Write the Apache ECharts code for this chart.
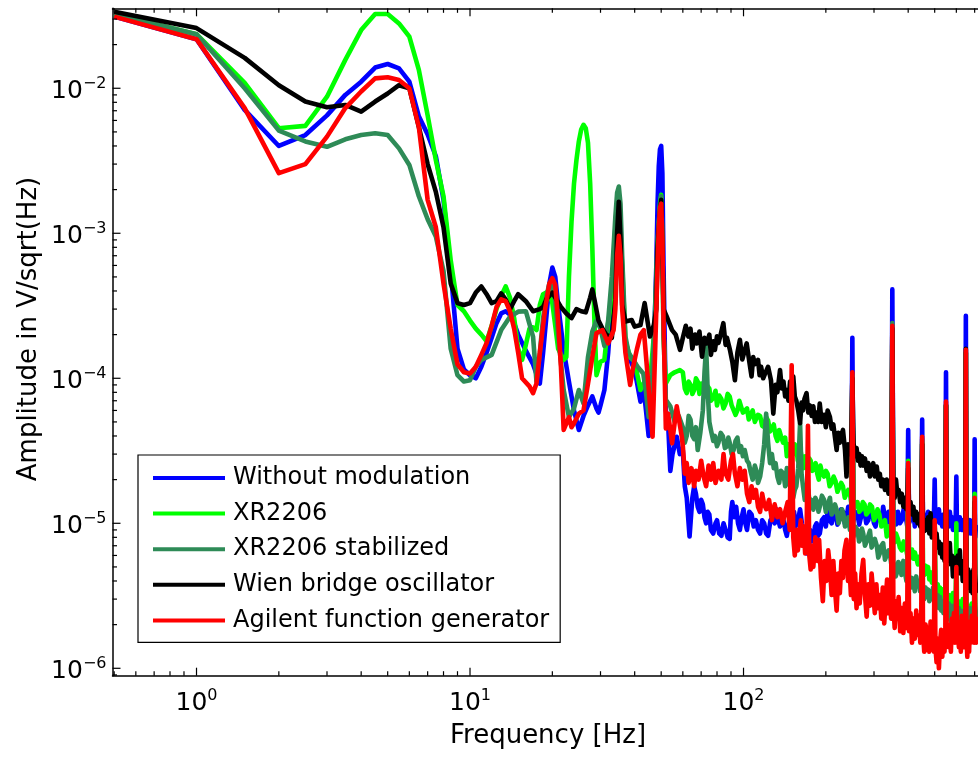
<!DOCTYPE html>
<html><head><meta charset="utf-8">
<script src="https://cdn.jsdelivr.net/npm/echarts@6/dist/echarts.min.js"></script>
<style>html,body{margin:0;padding:0;background:#fff}#c{width:978px;height:760px}</style>
</head><body><div id="c"></div>
<script>
const FONT = 'DejaVu Sans';
const seriesNames = ['Without modulation', 'XR2206', 'XR2206 stabilized', 'Wien bridge oscillator', 'Agilent function generator'];
const seriesColors = ['#0000ff', '#00ff00', '#2e8b57', '#000000', '#ff0000'];

// [frequency Hz, amplitude V/sqrt(Hz)]
const withoutModulation = [[0.5,3.12e-2],[1,2.18e-2],[1.5,7.1e-3],[2,4.0e-3],[2.5,4.76e-3],[3,6.5e-3],[3.5,9.0e-3],[4,1.11e-2],[4.5,1.39e-2],[5,1.47e-2],[5.5,1.37e-2],[6,1.11e-2],[6.5,6.4e-3],[7,4.8e-3],[7.5,3.4e-3],[8,1.7e-3],[8.5,5.5e-4],[9,1.6e-4],[9.5,1.15e-4],[10,1.05e-4],[10.5,1.0e-4],[11,1.2e-4],[11.5,1.5e-4],[12,1.9e-4],[12.5,2.4e-4],[13,2.8e-4],[13.5,2.9e-4],[14,2.75e-4],[14.5,2.4e-4],[15,2.0e-4],[16,1.55e-4],[17,1.25e-4],[18,9.2e-5],[18.5,1.5e-4],[19,2.6e-4],[19.5,4.5e-4],[20,5.8e-4],[20.5,5.0e-4],[21,3.2e-4],[22,1.57e-4],[23,9.5e-5],[24,6e-5],[25,4.4e-5],[26,5.5e-5],[27,6.5e-5],[28,7.5e-5],[29,6.2e-5],[29.5,5.8e-5],[30,6.5e-5],[31,8.3e-5],[32,1.5e-4],[33,3.5e-4],[34,1.1e-3],[34.5,1.6e-3],[35,1.8e-3],[35.5,1.2e-3],[36,4e-4],[37,1.6e-4],[38.5,1.34e-4],[40,1.14e-4],[42,6.9e-5],[43,9e-5],[44,6e-5],[45,4e-5],[46,5e-5],[47,1.5e-4],[48,6e-4],[48.5,1.6e-3],[49,2.9e-3],[49.5,3.8e-3],[50,4.0e-3],[50.5,2.6e-3],[51,6e-4],[52,6e-5],[53,4.9e-5],[54,2.3e-5],[55,3.0e-5],[57,3.95e-5],[58.5,3.0e-5],
[60,3.2e-5],[61,1.8e-5],[62,1.5e-5],[63.5,8.1e-6],[65,1.5e-5],[66,1.8e-5],[67,1.6e-5],[68,1.3e-5],[69,1.2e-5],[70,1.45e-5],[71,1.35e-5],[72,1.1e-5],[73,1.0e-5],[74,1.2e-5],[75,1.15e-5],[76,9e-6],[77.5,8.5e-6],[79,1.0e-5],[80,1.05e-5],[81.5,8.5e-6],[83,8.2e-6],[84.5,1.0e-5],[86,9e-6],[87.5,8e-6],[89,7.8e-6],[90,1.2e-5],[91,1.4e-5],[92.5,1.1e-5],[94,1.3e-5],[95.5,1.0e-5],[97,9e-6],[98.5,1.1e-5],[100,1.25e-5],[101.5,1.0e-5],[103,9e-6],[105,1.2e-5],[107,1.15e-5],[109,9.5e-6],[111,1.05e-5],[113,9e-6],[115,8.5e-6],[117,1.05e-5],[119,1.0e-5],[121,8.5e-6],[123,8.2e-6],[125.5,1.05e-5],[128,1.1e-5],[130,1.0e-5],[132,1.25e-5],[134,1.05e-5],[136,9.5e-6],[138,1.15e-5],[140,1.05e-5],[142,9e-6],[144,8.2e-6],[147,1.05e-5],[150,1.0e-5],[151.5,1.15e-5],[153,1.2e-5],[155,9.5e-6],[157,9.5e-6],[159,1.1e-5],[161,1.25e-5],[163.5,1.0e-5],[166,8.5e-6],[168,7.2e-6],[170,6.2e-6],[172.5,8.5e-6],[175,9e-6],[177.5,7.5e-6],[180,8e-6],[182.5,9.5e-6],[185,1.0e-5],[187.5,8.2e-6],[190,8.5e-6],[193.5,1.05e-5],[197,1.1e-5],[200,9.5e-6],[203,1.2e-5],[206.5,1.05e-5],[210,1.0e-5],[213.5,1.2e-5],[217,1.15e-5],[220.5,9.8e-6],[224,1.05e-5],[227.5,1.25e-5],[231,1.2e-5],[234.5,1.0e-5],[238,1.1e-5],[241.5,1.3e-5],[245,1.25e-5],[247.5,1.1e-5],[250,1.9e-4],[252.5,1.05e-5],[256,1.2e-5],[261,1.15e-5],[265,9.8e-6],[269,1.0e-5],[273,1.25e-5],[277,1.2e-5],[281,1.0e-5],[286,1.05e-5],[290,1.25e-5],[295,1.2e-5],[300,1.0e-5],[304,9.5e-6],[309,1.2e-5],[314,1.15e-5],[319,1.0e-5],[324,1.3e-5],[329,1.1e-5],[334,1.0e-5],[339,1.2e-5],[343,1.15e-5],[347,1.0e-5],[350,4.1e-4],[353,1.05e-5],[357,1.2e-5],[361,9.8e-6],[367,1.2e-5],[373,1.0e-5],[379,1.05e-5],[385,1.25e-5],[391,1.15e-5],[397,9.5e-6],[400,4.4e-5],[403,1.0e-5],[408,1.2e-5],[413,1.05e-5],[418,1.2e-5],[423,9.5e-6],[429,9.5e-6],[434,1.15e-5],[439,1.05e-5],[443,1.15e-5],[446.5,1.0e-5],[450,5.2e-5],[453,1.0e-5],[458,1.15e-5],[463,9.5e-6],[468,1.1e-5],[473,1.2e-5],[478,1.0e-5],[483,1.15e-5],[488,9e-6],[493,1.1e-5],[497,1.15e-5],[500,2.0e-5],[503,1.0e-5],[508,1.2e-5],[513,1.05e-5],[518,1.25e-5],[523,1.0e-5],[528,1.1e-5],[533,9.5e-6],[538,1.15e-5],[543,1.0e-5],[547,1.1e-5],[550,1.1e-4],[553,1.0e-5],[558,1.15e-5],[563,9.5e-6],[568,1.2e-5],[573,1.05e-5],[578,1.1e-5],[583,9e-6],[588,1.05e-5],[593,9.5e-6],[597,1.1e-5],[600,2.1e-5],[603,9.5e-6],[608,1.1e-5],[613,9e-6],[618,1.1e-5],[623,1.0e-5],[628,9e-6],[633,1.05e-5],[638,9e-6],[643,1.05e-5],[647,9.5e-6],[650,2.7e-4],[653,9e-6],[658,1.05e-5],[663,8.5e-6],[668,1.0e-5],[673,1.05e-5],[678,8.5e-6],[683,9.5e-6],[688,8.5e-6],[693,1.0e-5],[697,9e-6],[700,3.8e-5],[703,8e-6],[708,9.5e-6],[712,9e-6]];

const xr2206 = [[0.5,3.25e-2],[1,2.36e-2],[1.5,1.09e-2],[2,5.3e-3],[2.5,5.5e-3],[3,8.75e-3],[3.5,1.57e-2],[4,2.52e-2],[4.5,3.25e-2],[5,3.25e-2],[5.5,2.8e-2],[6,2.27e-2],[6.5,1.34e-2],[7,6.5e-3],[7.5,3.2e-3],[8,1.8e-3],[8.5,6.5e-4],[9,3.2e-4],[9.5,2.9e-4],[10,2.5e-4],[10.5,2.2e-4],[11,2.0e-4],[11.5,1.8e-4],[12,2.3e-4],[12.5,3.0e-4],[13,3.7e-4],[13.5,4.3e-4],[14,3.6e-4],[14.5,2.6e-4],[15,1.6e-4],[15.5,1.34e-4],[16,1.7e-4],[16.5,2.2e-4],[17,2.25e-4],[17.5,2.15e-4],[18,3.2e-4],[18.5,3.8e-4],[19,3.9e-4],[19.5,4.0e-4],[20,3.3e-4],[20.5,2.3e-4],[21,1.6e-4],[22,1.34e-4],[22.5,1.4e-4],[23,5e-4],[23.5,1.2e-3],[24,2.2e-3],[24.5,3.2e-3],[25,4.3e-3],[25.5,5.2e-3],[26,5.6e-3],[26.5,5.3e-3],[27,4.2e-3],[27.5,2.2e-3],[28,8e-4],[28.5,2.5e-4],[29,1.05e-4],[30,1.3e-4],[31,1.34e-4],[32,2.4e-4],[33,3.5e-4],[34,8e-4],[35,1.4e-3],[36,6e-4],[37,1.8e-4],[38.5,1.4e-4],[40,1.3e-4],[42,8.3e-5],[44,1.0e-4],[46,1.2e-4],[47.5,2.5e-4],[48.5,8e-4],[49.5,1.6e-3],[50,1.84e-3],[50.5,9e-4],[51,2e-4],[52,9.2e-5],[54,1.05e-4],[56,1.1e-4],[58.5,1.14e-4],
[60,1.1e-4],[61,8.5e-5],[62,7.9e-5],[63,9.5e-5],[64,9e-5],[65,7.8e-5],[66,8.3e-5],[67,1.0e-4],[68,9.5e-5],[69,7.8e-5],[70,9.2e-5],[71.5,8e-5],[72.5,7.5e-5],[74,8.8e-5],[75,8.5e-5],[76,7e-5],[77.5,7.3e-5],[79,8.2e-5],[80,6.5e-5],[81.5,7.6e-5],[83,7.2e-5],[84.5,6.2e-5],[86,6.7e-5],[87.5,7.8e-5],[89,7.5e-5],[90.5,6.5e-5],[92,6.4e-5],[93.5,5.6e-5],[95,6.0e-5],[96.5,7.0e-5],[98,6.8e-5],[99.5,5.8e-5],[101,5.7e-5],[103,6.2e-5],[104.5,5.2e-5],[106,5.5e-5],[108,6.0e-5],[110,5.0e-5],[111.5,4.9e-5],[113,5.6e-5],[115,5.5e-5],[117,4.7e-5],[119,4.6e-5],[121,5.4e-5],[123,5.1e-5],[125,4.3e-5],[127,4.4e-5],[129,4.8e-5],[131,4.0e-5],[133,3.7e-5],[135,4.4e-5],[137,4.0e-5],[139.5,3.6e-5],[142,3.9e-5],[144,2.9e-5],[146,3.5e-5],[148,3.4e-5],[150,3.1e-5],[152,3.0e-5],[154,3.5e-5],[156,3.3e-5],[158,2.7e-5],[160,2.8e-5],[162,3.1e-5],[164,2.6e-5],[166,2.4e-5],[168,2.9e-5],[170,2.6e-5],[172,2.4e-5],[174,2.8e-5],[176,2.7e-5],[178.5,2.3e-5],[181,2.4e-5],[183.5,2.6e-5],[186,2.2e-5],[188.5,2.0e-5],[191,2.5e-5],[194,2.2e-5],[197,2.1e-5],[200,2.3e-5],[203,2.2e-5],[206.5,1.8e-5],[210,1.9e-5],[213.5,2.1e-5],[217,1.95e-5],[220.5,1.65e-5],[224,1.7e-5],[227.5,1.9e-5],[231,1.8e-5],[234.5,1.5e-5],[238,1.52e-5],[241.5,1.7e-5],[245,1.6e-5],[247.5,1.4e-5],[250,9e-5],[252.5,1.45e-5],[256,1.3e-5],[261,1.4e-5],[265,1.2e-5],[269,1.24e-5],[273,1.4e-5],[277,1.35e-5],[281,1.15e-5],[286,1.2e-5],[290,1.35e-5],[295,1.3e-5],[300,1.05e-5],[304,1.1e-5],[309,1.25e-5],[314,1.15e-5],[319,9.5e-6],[324,9.5e-6],[329,1.05e-5],[334,8.1e-6],[339,9.5e-6],[343,9e-6],[347,8e-6],[350,2.0e-4],[353,8.2e-6],[357,7.4e-6],[361,8.5e-6],[367,7.8e-6],[373,6.8e-6],[379,6.5e-6],[385,7.5e-6],[391,7e-6],[397,6e-6],[400,2.7e-5],[403,6.4e-6],[408,5.8e-6],[413,6.6e-6],[418,5.7e-6],[423,6.3e-6],[429,6.3e-6],[434,5.2e-6],[439,5.9e-6],[443,5.2e-6],[446.5,5.6e-6],[450,3.6e-5],[453,4.9e-6],[458,4.4e-6],[463,5.1e-6],[468,4.5e-6],[473,5.0e-6],[478,4.1e-6],[483,4.6e-6],[488,3.9e-6],[493,4.3e-6],[497,3.8e-6],[500,9e-6],[503,3.9e-6],[508,3.4e-6],[513,3.8e-6],[518,3.1e-6],[523,3.6e-6],[528,3.0e-6],[533,3.5e-6],[538,2.9e-6],[543,3.3e-6],[547,3.0e-6],[550,6.5e-5],[553,3.1e-6],[558,2.7e-6],[563,3.2e-6],[568,2.6e-6],[573,3.0e-6],[578,2.7e-6],[583,3.3e-6],[588,2.6e-6],[593,3.0e-6],[597,2.6e-6],[600,1.0e-5],[603,2.8e-6],[608,2.4e-6],[613,2.9e-6],[618,2.5e-6],[623,2.8e-6],[628,2.4e-6],[633,3.0e-6],[638,2.5e-6],[643,2.8e-6],[647,2.4e-6],[650,1.5e-4],[653,2.6e-6],[658,2.3e-6],[663,2.7e-6],[668,2.3e-6],[673,2.6e-6],[678,2.2e-6],[683,2.8e-6],[688,2.3e-6],[693,2.6e-6],[697,2.3e-6],[700,1.6e-5],[703,2.5e-6],[708,2.2e-6],[712,2.5e-6]];

const xr2206Stabilized = [[0.5,3.25e-2],[1,2.36e-2],[1.5,1.0e-2],[2,5.1e-3],[2.5,4.3e-3],[3,3.95e-3],[3.5,4.45e-3],[4,4.76e-3],[4.5,4.9e-3],[5,4.76e-3],[5.5,3.85e-3],[6,2.96e-3],[6.5,1.8e-3],[7,1.25e-3],[7.5,9.5e-4],[8,5.5e-4],[8.5,1.6e-4],[9,1.05e-4],[9.5,9.5e-5],[10,9.7e-5],[10.5,1.2e-4],[11,1.34e-4],[12,1.45e-4],[13,2.15e-4],[14,2.66e-4],[15,2.88e-4],[16,2.9e-4],[17,1.94e-4],[17.5,9.5e-5],[18,1.5e-4],[18.5,2.6e-4],[19,3.6e-4],[19.5,4.5e-4],[20,4.3e-4],[20.5,3.45e-4],[21,2.0e-4],[22,8.3e-5],[23,5.4e-5],[24,6.2e-5],[25,8.3e-5],[26,6.7e-5],[27,1.4e-4],[28,2.1e-4],[29,2.5e-4],[30,2.2e-4],[31,1.67e-4],[32,2.5e-4],[33,5e-4],[34,1.3e-3],[34.5,1.9e-3],[35,2.1e-3],[35.5,1.6e-3],[36,7e-4],[37,1.94e-4],[38,1.5e-4],[39.5,1.34e-4],[41,1.2e-4],[43,1.08e-4],[44,8e-5],[45,5.4e-5],[46,7e-5],[47.5,3e-4],[48.5,9e-4],[49.5,1.5e-3],[50,1.8e-3],[50.5,8e-4],[51,2e-4],[52,7.1e-5],[54,6.4e-5],[56,5e-5],[58,5.5e-5],
[60,4.6e-5],[61,3.6e-5],[62,4.0e-5],[63,5.5e-5],[64,5.2e-5],[65,4.0e-5],[66,3.8e-5],[67,4.6e-5],[68,3.2e-5],[69.5,4.2e-5],[71,6e-5],[72,1.1e-4],[73,1.65e-4],[74,8e-5],[75,5e-5],[76,4.4e-5],[77.5,3.7e-5],[78.6,4.0e-5],[80,3.4e-5],[81,3.6e-5],[82.5,4.2e-5],[84,4.0e-5],[85.5,3.3e-5],[87,3.4e-5],[88,3.9e-5],[89,3.6e-5],[90.5,3.0e-5],[92,3.2e-5],[93.5,3.7e-5],[95,3.9e-5],[96.5,3.1e-5],[98,3.4e-5],[99.5,2.9e-5],[101,3.2e-5],[103,2.7e-5],[104.5,2.6e-5],[106,2.3e-5],[108,2.0e-5],[110,2.5e-5],[111.5,2.3e-5],[113,1.9e-5],[115,2.1e-5],[117,2.6e-5],[119,3.5e-5],[121,5.7e-5],[123,3.6e-5],[125,2.6e-5],[127,3.0e-5],[129,2.4e-5],[131,2.6e-5],[133,2.1e-5],[135,1.9e-5],[137,2.3e-5],[140,2.2e-5],[142,1.8e-5],[144,2.4e-5],[146,1.9e-5],[148,1.8e-5],[150,2.0e-5],[152,1.5e-5],[154,1.7e-5],[156,1.8e-5],[158.5,2.4e-5],[161,4.9e-5],[163,2.2e-5],[165,1.8e-5],[167.5,1.45e-5],[170,1.5e-5],[172.5,1.7e-5],[175,1.3e-5],[177.5,1.45e-5],[180,1.24e-5],[183,1.5e-5],[186,1.4e-5],[188,1.2e-5],[190,1.3e-5],[193.5,1.55e-5],[197,1.45e-5],[200,1.2e-5],[203.5,1.35e-5],[207,1.5e-5],[210,1.15e-5],[213,1.2e-5],[216,1.35e-5],[219,1.24e-5],[222.5,1.0e-5],[226,1.1e-5],[229,1.25e-5],[232,1.15e-5],[235,9.5e-6],[238,1.0e-5],[241.5,1.1e-5],[245,9e-6],[247.5,1.0e-5],[250,1.05e-4],[252.5,8.1e-6],[256,9.5e-6],[261,9e-6],[264.5,7.5e-6],[268,7.8e-6],[271,9.2e-6],[274,8.5e-6],[278,7.0e-6],[282,7.5e-6],[286,8.2e-6],[290,8.9e-6],[294,6.8e-6],[298,7.0e-6],[302,7.8e-6],[307,7e-6],[311,5.8e-6],[315,6.2e-6],[319,7.0e-6],[324,7.3e-6],[329,5.6e-6],[334,5.5e-6],[339,6.5e-6],[343,6.2e-6],[347,5.2e-6],[350,2.4e-4],[353,5.4e-6],[356,5.0e-6],[360,4.3e-6],[363,4.5e-6],[368,5.4e-6],[373,5.2e-6],[378,4.4e-6],[384,5.5e-6],[390,4.5e-6],[394,4.0e-6],[397,4.2e-6],[400,2.5e-5],[403,4.1e-6],[408,3.6e-6],[413,4.2e-6],[418,3.8e-6],[423,3.4e-6],[428,4.3e-6],[433,3.7e-6],[438,4.0e-6],[442,3.4e-6],[446.5,3.9e-6],[450,3.8e-5],[453,3.5e-6],[458,3.0e-6],[463,3.6e-6],[468,3.1e-6],[473,3.5e-6],[478,2.9e-6],[483,3.4e-6],[488,3.0e-6],[493,3.6e-6],[497,3.0e-6],[500,8e-6],[503,3.1e-6],[508,2.7e-6],[513,3.2e-6],[518,2.6e-6],[523,3.1e-6],[528,2.5e-6],[533,2.9e-6],[538,2.4e-6],[543,2.8e-6],[547,2.4e-6],[550,6.6e-5],[553,2.5e-6],[558,2.2e-6],[563,2.8e-6],[568,2.4e-6],[573,2.1e-6],[578,2.7e-6],[583,2.2e-6],[588,2.5e-6],[593,2.1e-6],[597,2.4e-6],[600,5e-6],[603,2.4e-6],[608,2.0e-6],[613,2.6e-6],[618,2.2e-6],[623,2.5e-6],[628,2.0e-6],[633,2.4e-6],[638,2.1e-6],[643,2.5e-6],[647,2.2e-6],[650,1.5e-4],[653,2.3e-6],[658,1.9e-6],[663,2.4e-6],[668,2.0e-6],[673,2.6e-6],[678,2.1e-6],[683,2.5e-6],[688,2.0e-6],[693,2.4e-6],[697,2.6e-6],[700,1.4e-5],[703,2.8e-6],[708,2.3e-6],[712,2.5e-6]];

const wienBridge = [[0.5,3.37e-2],[1,2.6e-2],[1.5,1.62e-2],[2,1.05e-2],[2.5,8.1e-3],[3,7.4e-3],[3.5,7.67e-3],[4,6.9e-3],[4.5,8.1e-3],[5,9.2e-3],[5.5,1.05e-2],[6,1.0e-2],[6.5,5.4e-3],[7,3.0e-3],[7.5,1.93e-3],[8,1.1e-3],[8.5,4.5e-4],[9,3.3e-4],[9.5,3.2e-4],[10,3.3e-4],[10.5,3.9e-4],[11,4.3e-4],[11.5,3.8e-4],[12,3.3e-4],[12.5,3.4e-4],[13,3.85e-4],[13.5,3.5e-4],[14,3.0e-4],[14.5,3.4e-4],[15,3.8e-4],[16,3.4e-4],[17,2.9e-4],[18,3.0e-4],[18.5,3.1e-4],[19,3.5e-4],[20,3.9e-4],[20.5,3.6e-4],[21.5,3.1e-4],[22.5,2.8e-4],[23.5,2.6e-4],[24.5,3.0e-4],[25.5,2.9e-4],[26.5,2.85e-4],[27.5,3.6e-4],[28,4.1e-4],[28.5,3.5e-4],[29.5,2.5e-4],[30.5,2.2e-4],[31.5,2.0e-4],[33,1.9e-4],[34,3.5e-4],[34.5,1.0e-3],[35,1.65e-3],[35.5,9e-4],[36,3.2e-4],[37,2.46e-4],[39,2.52e-4],[40,2.27e-4],[42,2.33e-4],[43.5,3.3e-4],[45.5,1.94e-4],[47,2.33e-4],[48,3e-4],[48.5,8e-4],[49.5,1.4e-3],[50,1.7e-3],[50.5,8e-4],[51,3e-4],[52.4,2.66e-4],[54.8,2.15e-4],[56.5,2.0e-4],[58.6,1.57e-4],
[60,1.9e-4],[61.5,2.3e-4],[62.8,1.94e-4],[64,2.2e-4],[65,1.6e-4],[66.5,2.0e-4],[67.4,1.74e-4],[69,2.1e-4],[70.5,1.41e-4],[72,1.9e-4],[73.4,1.74e-4],[75,2.0e-4],[76,1.45e-4],[77.5,1.8e-4],[78.6,1.57e-4],[80,1.95e-4],[81,1.75e-4],[82.5,2.0e-4],[84.4,2.4e-4],[86,1.7e-4],[87,1.9e-4],[89.2,1.57e-4],[91,1.3e-4],[93,9.7e-5],[95,1.5e-4],[97,1.84e-4],[99,1.35e-4],[100,1.45e-4],[102.7,1.74e-4],[105,1.3e-4],[107,1.03e-4],[108.5,1.4e-4],[110,1.25e-4],[113,1.34e-4],[114.5,1.05e-4],[116,1.2e-4],[118,1.0e-4],[120,1.08e-4],[123,1.2e-4],[126,9.7e-5],[128.5,5.7e-5],[131,9e-5],[133,8e-5],[136,1.14e-4],[138,8.5e-5],[140,9.5e-5],[142,7.5e-5],[144,8.3e-5],[146,7e-5],[148,9.5e-5],[150,8e-5],[152,1.03e-4],[154,7.5e-5],[156,7e-5],[158.5,6e-5],[161,4.9e-5],[163,6.8e-5],[165,6e-5],[167,7.2e-5],[170,7.9e-5],[172.5,5.8e-5],[175,6.5e-5],[177.5,5.5e-5],[180,6.4e-5],[182.5,5e-5],[185,5.8e-5],[187.5,5e-5],[190,6.7e-5],[193,5e-5],[197,5.6e-5],[200,4.6e-5],[203,6.0e-5],[207,5.4e-5],[210,4.5e-5],[213,4.8e-5],[216,3.9e-5],[219,3.2e-5],[222,4.2e-5],[225,3.6e-5],[228,4.1e-5],[231,4.4e-5],[235,3.2e-5],[238,2.1e-5],[241,3.5e-5],[245,3.0e-5],[247.5,3.4e-5],[250,1.0e-4],[252.5,3.56e-5],[256,2.9e-5],[259,3.3e-5],[262,2.7e-5],[265,3.0e-5],[268,2.5e-5],[271,2.9e-5],[274,2.5e-5],[278,2.8e-5],[282,2.3e-5],[286,2.6e-5],[290,2.1e-5],[294,2.4e-5],[298,2.6e-5],[302,2.1e-5],[307,2.46e-5],[311,2.0e-5],[315,2.2e-5],[319,1.8e-5],[324,2.0e-5],[329,1.7e-5],[334,2.0e-5],[339,1.6e-5],[343,1.8e-5],[347,1.6e-5],[350,2.2e-4],[353,1.8e-5],[357,1.5e-5],[361,2.0e-5],[365,1.6e-5],[369,1.7e-5],[374,1.4e-5],[379,1.6e-5],[384,1.3e-5],[389,1.5e-5],[394,1.25e-5],[397,1.4e-5],[400,2.4e-5],[403,1.25e-5],[408,1.4e-5],[413,1.15e-5],[418,1.3e-5],[423,1.05e-5],[428,1.2e-5],[433,1.0e-5],[438,1.15e-5],[443,9.5e-6],[446.5,1.1e-5],[450,3.5e-5],[453,1.0e-5],[458,8.8e-6],[463,1.05e-5],[468,9e-6],[473,1.1e-5],[478,8.5e-6],[483,1.17e-5],[488,8e-6],[493,9.5e-6],[497,8e-6],[500,1.0e-5],[503,7.5e-6],[508,8.5e-6],[513,6.8e-6],[518,7.5e-6],[523,6.2e-6],[528,7.2e-6],[533,5.8e-6],[538,6.8e-6],[543,5.5e-6],[547,6.5e-6],[550,6.5e-5],[553,6.0e-6],[558,7.0e-6],[563,5.5e-6],[568,7.3e-6],[573,5.2e-6],[578,6.0e-6],[583,4.3e-6],[588,5.5e-6],[593,4.8e-6],[597,5.8e-6],[600,5.0e-6],[603,4.5e-6],[608,6.0e-6],[613,4.6e-6],[618,6.5e-6],[623,4.5e-6],[628,5.5e-6],[633,4.0e-6],[638,5.2e-6],[643,4.2e-6],[647,5.0e-6],[650,1.6e-4],[653,4.2e-6],[658,3.6e-6],[663,4.8e-6],[668,3.8e-6],[673,4.6e-6],[678,3.4e-6],[683,4.3e-6],[688,3.3e-6],[693,4.8e-6],[697,3.8e-6],[700,1.4e-5],[703,4.5e-6],[708,3.4e-6],[712,3.9e-6]];

const agilent = [[0.5,3.12e-2],[1,2.18e-2],[1.5,7.3e-3],[2,2.6e-3],[2.5,3.0e-3],[3,4.64e-3],[3.5,7.3e-3],[4,9.5e-3],[4.5,1.17e-2],[5,1.19e-2],[5.5,1.14e-2],[6,1.0e-2],[6.5,5.4e-3],[7,1.7e-3],[7.5,1.1e-3],[8,4.5e-4],[8.5,2.2e-4],[9,1.25e-4],[9.5,1.1e-4],[10,1.08e-4],[10.5,1.2e-4],[11,1.45e-4],[11.5,1.75e-4],[12,2.3e-4],[12.5,3.1e-4],[13,3.5e-4],[13.5,3.4e-4],[14,2.9e-4],[14.5,2.2e-4],[15,1.5e-4],[15.5,1.0e-4],[16.5,8.8e-5],[17,7.9e-5],[17.5,9.2e-5],[18,1.5e-4],[18.8,2.96e-4],[19.5,4.5e-4],[20,4.9e-4],[20.5,4.4e-4],[21,2.5e-4],[21.5,1.2e-4],[22,4.4e-5],[23,5.4e-5],[23.5,4.6e-5],[24,4.9e-5],[25,5.7e-5],[26,6.0e-5],[27,9.2e-5],[28,1.4e-4],[29,2.05e-4],[30.5,2.15e-4],[32,1.74e-4],[33.5,2.15e-4],[34,3e-4],[34.5,7e-4],[35,9.6e-4],[35.5,7e-4],[36,3e-4],[37,1.5e-4],[38.5,9.0e-5],[39.5,1.2e-4],[40.7,1.57e-4],[42,2.0e-4],[43.2,2.15e-4],[44.5,1.1e-4],[46.5,3.95e-5],[47.5,1.5e-4],[48.5,6e-4],[49,1.1e-3],[49.5,1.5e-3],[50,1.6e-3],[50.5,9e-4],[51,2.5e-4],[52,4.5e-5],[53,5.7e-5],[54.8,3.56e-5],[57,6.4e-5],[59.5,3.95e-5],
[60,3.4e-5],[61,2.2e-5],[62,2.6e-5],[63,1.9e-5],[64.5,2.4e-5],[66,1.8e-5],[67,2.3e-5],[68.5,2.0e-5],[70,2.7e-5],[71.5,2.1e-5],[73,1.8e-5],[74.5,2.5e-5],[76,2.0e-5],[77.5,2.6e-5],[79,1.9e-5],[81,2.3e-5],[83,2.0e-5],[84.5,3.0e-5],[86,2.2e-5],[88,2.0e-5],[90,2.7e-5],[91.5,3.0e-5],[93,2.2e-5],[95,1.8e-5],[97,2.4e-5],[99,2.0e-5],[101,2.3e-5],[103,1.6e-5],[105,1.4e-5],[107,1.8e-5],[109,1.5e-5],[111,1.7e-5],[113,1.3e-5],[115,1.2e-5],[117,1.6e-5],[119,1.35e-5],[121,1.25e-5],[124,1.45e-5],[127,1.05e-5],[130,1.35e-5],[133,1.1e-5],[136,1.25e-5],[139,1.0e-5],[142,1.2e-5],[145,1.4e-5],[147.5,9e-6],[150,1.23e-4],[152,8e-6],[154,6e-6],[156,9e-6],[158,6.5e-6],[160,8.5e-6],[162,1.05e-5],[164,7e-6],[166,9.5e-6],[168,6.2e-6],[170,8e-6],[172,4.7e-5],[174,6e-6],[176,4.8e-6],[178,7e-6],[180,5e-6],[183,8e-6],[186,5.5e-6],[189,7.7e-6],[192,4.2e-6],[195,2.9e-6],[198,5.5e-6],[201,4e-6],[204,6.5e-6],[207,5e-6],[210,3.2e-6],[213,5.5e-6],[216,3.5e-6],[219,2.5e-6],[222,4.5e-6],[225,3.3e-6],[228,5.5e-6],[231,4.2e-6],[234,6.5e-6],[238,7.7e-6],[241,4e-6],[244,5e-6],[247,3.2e-6],[250,1.1e-4],[253,3e-6],[256,4.5e-6],[259,2.6e-6],[262,3.8e-6],[266,2.8e-6],[270,4.5e-6],[274,5.6e-6],[278,3.2e-6],[282,2.27e-6],[286,3.8e-6],[290,2.7e-6],[294,4.5e-6],[298,3.3e-6],[302,2.4e-6],[306,3.8e-6],[310,2.6e-6],[315,3.2e-6],[319,2.2e-6],[323,3.6e-6],[327,2.04e-6],[331,3.0e-6],[335,4.1e-6],[339,2.4e-6],[343,3.0e-6],[346.5,2.2e-6],[350,2.3e-4],[353,2.8e-6],[357,1.9e-6],[361,2.9e-6],[365,2.2e-6],[369,3.1e-6],[374,1.8e-6],[379,2.6e-6],[384,1.75e-6],[389,2.8e-6],[394,1.9e-6],[397,2.5e-6],[400,2.6e-5],[403,1.8e-6],[408,2.4e-6],[413,1.5e-6],[418,2.2e-6],[423,1.6e-6],[428,2.5e-6],[433,1.7e-6],[438,2.3e-6],[443,1.5e-6],[446.5,2.1e-6],[450,3.95e-5],[453,1.8e-6],[458,1.3e-6],[463,2.0e-6],[468,1.34e-6],[473,1.9e-6],[478,1.3e-6],[483,2.1e-6],[488,1.5e-6],[493,1.9e-6],[497,1.3e-6],[500,1.05e-5],[503,1.4e-6],[508,1.1e-6],[513,1.6e-6],[518,1.0e-6],[523,1.5e-6],[528,1.84e-6],[533,1.2e-6],[538,1.7e-6],[543,1.3e-6],[547,1.9e-6],[550,6.9e-5],[553,1.5e-6],[558,2.0e-6],[563,1.4e-6],[568,1.9e-6],[573,1.3e-6],[578,2.2e-6],[583,1.6e-6],[588,2.4e-6],[593,1.5e-6],[597,2e-6],[600,5e-6],[603,1.5e-6],[608,2.1e-6],[613,1.4e-6],[618,1.9e-6],[623,1.3e-6],[628,2.3e-6],[633,1.6e-6],[638,2.2e-6],[643,1.4e-6],[647,1.8e-6],[650,1.57e-4],[653,1.7e-6],[658,1.2e-6],[663,1.9e-6],[668,1.3e-6],[673,2.1e-6],[678,1.5e-6],[683,2.3e-6],[688,1.6e-6],[693,2.1e-6],[697,1.5e-6],[700,1.5e-5],[703,2.0e-6],[708,1.5e-6],[712,2.27e-6]];

const seriesData = [withoutModulation, xr2206, xr2206Stabilized, wienBridge, agilent];

// axis ranges and ticks
const xRange = [0.493, 720];
const yRange = [8.89e-7, 0.0356];
const xMajorTicks = [1, 10, 100];
const xMinorTicks = [0.5,0.6,0.7,0.8,0.9,2,3,4,5,6,7,8,9,20,30,40,50,60,70,80,90,200,300,400,500,600,700];
const yMajorTicks = [1e-6, 1e-5, 1e-4, 1e-3, 1e-2];
const yMinorTicks = [9e-7,2e-6,3e-6,4e-6,5e-6,6e-6,7e-6,8e-6,9e-6,2e-5,3e-5,4e-5,5e-5,6e-5,7e-5,8e-5,9e-5,2e-4,3e-4,4e-4,5e-4,6e-4,7e-4,8e-4,9e-4,2e-3,3e-3,4e-3,5e-3,6e-3,7e-3,8e-3,9e-3,2e-2,3e-2];

function powLabel(v) {
  const e = Math.log10(v);
  const r = Math.round(e);
  if (Math.abs(e - r) > 1e-6) return '';
  return '{b|10}{s|' + (r < 0 ? '\u2212' + (-r) : String(r)) + '}';
}
const rich = {
  b: {fontFamily: FONT, fontSize: 25, color: '#000', lineHeight: 25, padding: [7, 0, 0, 0]},
  s: {fontFamily: FONT, fontSize: 16, color: '#000', lineHeight: 16, verticalAlign: 'top'}
};

const chart = echarts.init(document.getElementById('c'), null, {renderer: 'canvas'});

const lineSeries = seriesNames.map((n, i) => ({
  name: n, type: 'line', data: seriesData[i], showSymbol: false, symbol: 'none',
  lineStyle: {width: 4.6, color: seriesColors[i], join: 'round'},
  itemStyle: {color: seriesColors[i]}, color: seriesColors[i],
  animation: false, clip: true, z: 2
}));

const TICK_STYLE = {stroke: '#000', lineWidth: 1.2};
const xTickSeries = {
  type: 'custom', silent: true, z: 5, animation: false, clip: false,
  xAxisIndex: 0, yAxisIndex: 0,
  encode: {x: 0, y: 1},
  data: xMajorTicks.map(v => [v, 1e-4, 1]).concat(xMinorTicks.map(v => [v, 1e-4, 0])),
  renderItem: function (params, api) {
    const cs = params.coordSys;
    const x = api.coord([api.value(0), 1e-4])[0];
    const len = api.value(2) ? 8 : 4.5;
    const bottom = cs.y + cs.height, top = cs.y;
    return {type: 'group', children: [
      {type: 'line', shape: {x1: x, y1: bottom, x2: x, y2: bottom - len}, style: TICK_STYLE},
      {type: 'line', shape: {x1: x, y1: top, x2: x, y2: top + len}, style: TICK_STYLE}
    ]};
  }
};
const yTickSeries = {
  type: 'custom', silent: true, z: 5, animation: false, clip: false,
  xAxisIndex: 0, yAxisIndex: 0,
  encode: {x: 0, y: 1},
  data: yMajorTicks.map(v => [1, v, 1]).concat(yMinorTicks.map(v => [1, v, 0])),
  renderItem: function (params, api) {
    const cs = params.coordSys;
    const y = api.coord([1, api.value(1)])[1];
    const len = api.value(2) ? 8 : 4.5;
    return {type: 'line', shape: {x1: cs.x, y1: y, x2: cs.x + len, y2: y}, style: TICK_STYLE};
  }
};

const axisLineStyle = {show: true, lineStyle: {color: '#000', width: 1.5}};
const option = {
  animation: false,
  backgroundColor: '#fff',
  grid: {left: 112.5, right: 0, top: 8.3, bottom: 84.3, containLabel: false, outerBoundsMode: 'none'},
  xAxis: [
    {type: 'log', logBase: 10, min: xRange[0], max: xRange[1], position: 'bottom',
     axisLine: axisLineStyle, axisTick: {show: false}, minorTick: {show: false}, splitLine: {show: false},
     axisLabel: {show: true, margin: 12, formatter: powLabel, rich: rich, showMinLabel: true, showMaxLabel: true}},
    {type: 'log', logBase: 10, min: xRange[0], max: xRange[1], position: 'top',
     axisLine: axisLineStyle, axisTick: {show: false}, minorTick: {show: false}, splitLine: {show: false},
     axisLabel: {show: false}}
  ],
  yAxis: [
    {type: 'log', logBase: 10, min: yRange[0], max: yRange[1], position: 'left',
     axisLine: axisLineStyle, axisTick: {show: false}, minorTick: {show: false}, splitLine: {show: false},
     axisLabel: {show: true, margin: 6, formatter: powLabel, rich: rich}}
  ],
  legend: {
    orient: 'vertical', left: 138, top: 455,
    padding: [8, 11, 7, 15], itemGap: 5.6, itemWidth: 72, itemHeight: 4, icon: 'rect',
    borderColor: '#000', borderWidth: 1.2, backgroundColor: '#fff', borderRadius: 0,
    textStyle: {fontFamily: FONT, fontSize: 24, color: '#000', lineHeight: 30, padding: [0, 0, 0, 3]},
    data: seriesNames, selectedMode: false, z: 10
  },
  graphic: [
    {type: 'text', x: 548, y: 736, silent: true, z: 10,
     style: {text: 'Frequency [Hz]', fontFamily: FONT, fontSize: 26, fill: '#000', align: 'center', verticalAlign: 'middle'}},
    {type: 'text', x: 29, y: 329, rotation: Math.PI / 2, silent: true, z: 10,
     style: {text: 'Amplitude in V/sqrt(Hz)', fontFamily: FONT, fontSize: 26, fill: '#000', align: 'center', verticalAlign: 'middle'}}
  ],
  series: lineSeries.concat([xTickSeries, yTickSeries])
};
chart.setOption(option);
</script></body></html>
